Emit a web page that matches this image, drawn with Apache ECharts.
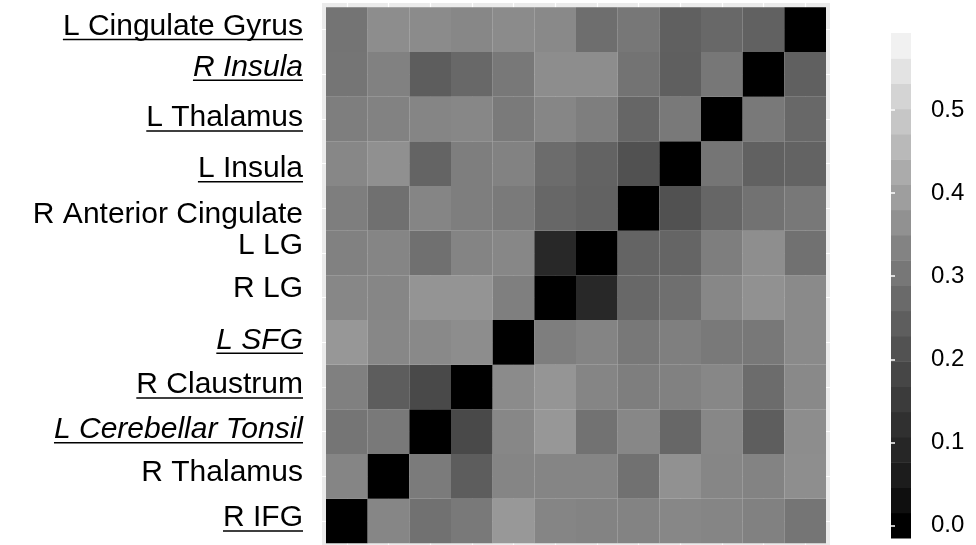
<!DOCTYPE html>
<html>
<head>
<meta charset="utf-8">
<script src="https://cdn.jsdelivr.net/npm/echarts@6/dist/echarts.min.js"></script>
<style>
  html, body { margin: 0; padding: 0; background: #ffffff; }
  #chart { width: 976px; height: 545px; }
</style>
</head>
<body>
<div id="chart"></div>
<script>
// Regions: bottom -> top on the y axis, left -> right on the x axis
const regions = ['R IFG', 'R Thalamus', 'L Cerebellar Tonsil', 'R Claustrum', 'L SFG', 'R LG',
  'L LG', 'R Anterior Cingulate', 'L Insula', 'L Thalamus', 'R Insula', 'L Cingulate Gyrus'];

// Row values (columns left -> right in the order of `regions`)
const rowLCingulateGyrus   = [0.298, 0.356, 0.353, 0.344, 0.353, 0.347, 0.283, 0.305, 0.248, 0.268, 0.250, 0];
const rowRInsula           = [0.300, 0.328, 0.240, 0.268, 0.307, 0.356, 0.356, 0.295, 0.245, 0.305, 0, 0.248];
const rowLThalamus         = [0.321, 0.330, 0.337, 0.342, 0.312, 0.340, 0.321, 0.263, 0.309, 0, 0.309, 0.268];
const rowLInsula           = [0.342, 0.363, 0.258, 0.321, 0.330, 0.278, 0.255, 0.210, 0, 0.300, 0.250, 0.255];
const rowRAnteriorCingulate= [0.321, 0.288, 0.337, 0.321, 0.312, 0.265, 0.253, 0, 0.210, 0.263, 0.293, 0.307];
const rowLLG               = [0.328, 0.337, 0.288, 0.335, 0.344, 0.098, 0, 0.258, 0.260, 0.321, 0.360, 0.290];
const rowRLG               = [0.344, 0.340, 0.372, 0.372, 0.323, 0, 0.098, 0.268, 0.285, 0.342, 0.365, 0.349];
const rowLSFG              = [0.379, 0.344, 0.347, 0.356, 0, 0.321, 0.335, 0.307, 0.323, 0.309, 0.307, 0.351];
const rowRClaustrum        = [0.326, 0.240, 0.189, 0, 0.353, 0.374, 0.337, 0.321, 0.328, 0.342, 0.278, 0.347];
const rowLCerebellarTonsil = [0.300, 0.309, 0, 0.189, 0.342, 0.379, 0.293, 0.342, 0.265, 0.344, 0.243, 0.356];
const rowRThalamus         = [0.337, 0, 0.314, 0.240, 0.337, 0.337, 0.337, 0.290, 0.365, 0.340, 0.333, 0.360];
const rowRIFG              = [0, 0.340, 0.290, 0.309, 0.381, 0.337, 0.333, 0.333, 0.344, 0.337, 0.328, 0.300];

// rows listed bottom -> top (same order as regions)
const rowsBottomUp = [rowRIFG, rowRThalamus, rowLCerebellarTonsil, rowRClaustrum, rowLSFG, rowRLG,
  rowLLG, rowRAnteriorCingulate, rowLInsula, rowLThalamus, rowRInsula, rowLCingulateGyrus];

// Colour bar tick labels
const legendTicks = [0, 0.1, 0.2, 0.3, 0.4, 0.5];

// ---------- styling (kept separate from the data) ----------
const italicLabels = ['R Insula', 'L SFG', 'L Cerebellar Tonsil'];
const underlinedLabels = ['L Cingulate Gyrus', 'R Insula', 'L Thalamus', 'L Insula', 'L SFG',
  'R Claustrum', 'L Cerebellar Tonsil', 'R IFG'];
// vertical shift of each label (px, + = down), same order as regions
const labelShift = [-3, -3.5, -2, -2, -2, -9, -7.5, 6, 5, -1, -7, -3];

const FONT = "'Liberation Sans', Arial, Helvetica, sans-serif";
const LABEL_SIZE = 30;

// grey scale roughly linear in L* from black; stops every 0.05 from 0 to 0.6
const greyStops = ['#000000', '#181818', '#292929', '#3a3a3a', '#4d4d4d', '#616161', '#757575',
  '#8a8a8a', '#a0a0a0', '#b6b6b6', '#cccccc', '#e4e4e4', '#fbfbfb'];

const cellData = [];
rowsBottomUp.forEach(function (row, y) {
  row.forEach(function (v, x) { cellData.push([x, y, v]); });
});

// colour bar bins (legend rendering): 20 bins, extreme bin centres at 0 and the scale max
const barMax = 0.5776, nBins = 20, binW = barMax / (nBins - 1);
const barData = [];
for (let k = 0; k < nBins; k++) barData.push([k * binW - binW / 2, k * binW + binW / 2, k * binW]);

const idx = regions.map(function (_, i) { return i; });

const rich = {
  t:  { fontSize: LABEL_SIZE, fontFamily: FONT, color: '#000', lineHeight: 26 },
  ti: { fontSize: LABEL_SIZE, fontFamily: FONT, color: '#000', lineHeight: 26, fontStyle: 'italic' },
  hr: { borderColor: '#000', borderWidth: 1.5, height: 0, lineHeight: 0, width: '100%' }
};
labelShift.forEach(function (d, i) {
  const h = Math.abs(d) * 2;
  rich['sp' + i] = { height: h, lineHeight: h, fontSize: 1 };
});

function labelFormatter(v) {
  const i = Math.round(v);
  const name = regions[i];
  if (name === undefined) return '';
  const d = labelShift[i];
  const key = italicLabels.indexOf(name) >= 0 ? 'ti' : 't';
  let s = '';
  if (d > 0) s += '{sp' + i + '|}\n';
  s += '{' + key + '|' + name + '}';
  if (underlinedLabels.indexOf(name) >= 0) s += '\n{hr|}';
  if (d < 0) s += '\n{sp' + i + '|}';
  return s;
}

const chart = echarts.init(document.getElementById('chart'), null, { renderer: 'canvas' });
chart.setOption({
  animation: false,
  backgroundColor: '#ffffff',
  grid: [
    { left: 322, top: 3, width: 508, height: 544.6, show: true, backgroundColor: '#ebebeb',
      borderWidth: 0, containLabel: false, outerBoundsMode: 'none' },
    { left: 891, top: 33, width: 20, height: 505, show: false, containLabel: false, outerBoundsMode: 'none' }
  ],
  xAxis: [
    { gridIndex: 0, type: 'value', min: -0.5 - 0.096, max: 11.5 + 0.096,
      axisLine: { show: false }, axisTick: { show: false, customValues: idx },
      axisLabel: { show: false, customValues: idx },
      splitLine: { show: true, lineStyle: { color: '#ffffff', width: 1.2 } } },
    { gridIndex: 1, type: 'value', min: 0, max: 1, show: false }
  ],
  yAxis: [
    { gridIndex: 0, type: 'value', min: -0.5 - 0.096, max: 11.5 + 0.096,
      axisLine: { show: false }, axisTick: { show: false, customValues: idx },
      axisLabel: { show: true, customValues: idx, margin: 19, formatter: labelFormatter, rich: rich },
      splitLine: { show: true, lineStyle: { color: '#ffffff', width: 1.2 } } },
    { gridIndex: 1, type: 'value', position: 'right', min: -binW / 2, max: barMax + binW / 2, z: 10,
      axisLine: { show: false },
      axisTick: { show: true, inside: true, length: 4, customValues: legendTicks,
        lineStyle: { color: '#ffffff', width: 1.5 } },
      axisLabel: { show: true, customValues: legendTicks, margin: 20, fontSize: 24, fontFamily: FONT,
        color: '#000', formatter: function (v) { return v.toFixed(1); } },
      splitLine: { show: false } },
    { gridIndex: 1, type: 'value', position: 'left', min: -binW / 2, max: barMax + binW / 2, z: 10,
      axisLine: { show: false },
      axisTick: { show: true, inside: true, length: 4, customValues: legendTicks,
        lineStyle: { color: '#ffffff', width: 1.5 } },
      axisLabel: { show: false }, splitLine: { show: false } }
  ],
  visualMap: {
    show: false, type: 'continuous', min: 0, max: 0.6, dimension: 2, seriesIndex: [0, 1],
    inRange: { color: greyStops }
  },
  series: [
    {
      type: 'custom', xAxisIndex: 0, yAxisIndex: 0, data: cellData, encode: { x: 0, y: 1 },
      renderItem: function (params, api) {
        const p0 = api.coord([api.value(0) - 0.5, api.value(1) + 0.5]);
        const p1 = api.coord([api.value(0) + 0.5, api.value(1) - 0.5]);
        return { type: 'rect',
          shape: { x: p0[0], y: p0[1], width: p1[0] - p0[0], height: p1[1] - p0[1] },
          style: { fill: api.visual('color') } };
      }
    },
    {
      type: 'custom', xAxisIndex: 1, yAxisIndex: 1, data: barData, encode: { y: [0, 1] },
      renderItem: function (params, api) {
        const p0 = api.coord([0, api.value(1)]);
        const p1 = api.coord([1, api.value(0)]);
        return { type: 'rect',
          shape: { x: p0[0], y: p0[1], width: p1[0] - p0[0], height: p1[1] - p0[1] + 0.5 },
          style: { fill: api.visual('color') } };
      }
    }
  ]
});
</script>
</body>
</html>
